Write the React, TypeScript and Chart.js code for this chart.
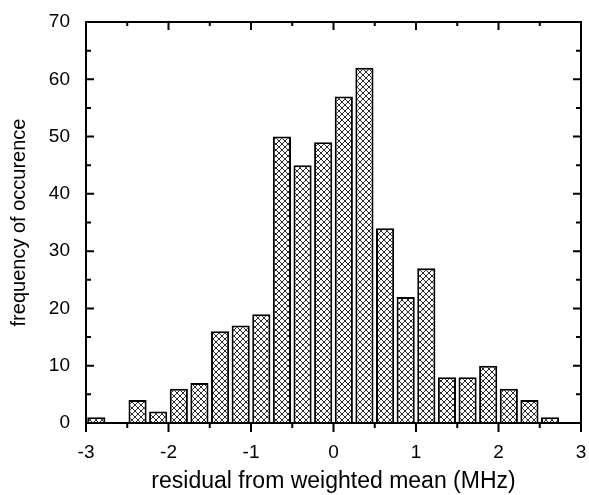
import React, { useEffect, useRef } from "react";
import { Chart, registerables } from "chart.js";

Chart.register(...registerables);

const binCenters = [-2.875, -2.375, -2.125, -1.875, -1.625, -1.375, -1.125, -0.875, -0.625, -0.375, -0.125, 0.125, 0.375, 0.625, 0.875, 1.125, 1.375, 1.625, 1.875, 2.125, 2.375, 2.625];
const counts = [1, 4, 2, 6, 7, 16, 17, 19, 50, 45, 49, 57, 62, 34, 22, 27, 8, 8, 10, 6, 4, 1];
const xTitle = "residual from weighted mean (MHz)";
const yTitle = "frequency of occurence";

const FONT = "'Liberation Sans', Arial, Helvetica, sans-serif";

function makePattern(): CanvasPattern | string {
  const c = document.createElement("canvas");
  const s = 6;
  c.width = s;
  c.height = s;
  const g = c.getContext("2d");
  if (!g) return "#fff";
  g.fillStyle = "#fff";
  g.fillRect(0, 0, s, s);
  g.strokeStyle = "#111";
  g.lineWidth = 0.9;
  for (const o of [-s, 0, s]) {
    g.beginPath();
    g.moveTo(o, 0);
    g.lineTo(o + s, s);
    g.stroke();
    g.beginPath();
    g.moveTo(o + s, 0);
    g.lineTo(o, s);
    g.stroke();
  }
  const p = g.createPattern(c, "repeat");
  return p || "#fff";
}

const framePlugin = {
  id: "frameTicks",
  afterDraw(chart: any) {
    const { ctx, chartArea, scales } = chart;
    const { left, right, top, bottom } = chartArea;
    const x = scales.x;
    const y = scales.y;
    ctx.save();
    ctx.strokeStyle = "#000";
    ctx.lineWidth = 2;
    ctx.strokeRect(left, top, right - left, bottom - top);
    ctx.beginPath();
    for (let v = -3; v <= 3.001; v += 0.5) {
      const px = x.getPixelForValue(v);
      const major = Math.abs(v - Math.round(v)) < 1e-6;
      ctx.moveTo(px, bottom);
      ctx.lineTo(px, bottom + (major ? 9 : 5));
      ctx.moveTo(px, top);
      ctx.lineTo(px, top + (major ? 8 : 4));
    }
    for (let v = 0; v <= 70.001; v += 5) {
      const py = y.getPixelForValue(v);
      const major = v % 10 === 0;
      ctx.moveTo(left, py);
      ctx.lineTo(left + (major ? 8 : 5), py);
      ctx.moveTo(right, py);
      ctx.lineTo(right - (major ? 8 : 5), py);
    }
    ctx.stroke();
    ctx.restore();
  },
};

export default function App() {
  const ref = useRef<HTMLCanvasElement | null>(null);
  useEffect(() => {
    document.body.style.margin = "0";
    const canvas = ref.current;
    if (!canvas) return;
    const pattern = makePattern();
    const chart = new Chart(canvas, {
      type: "bar",
      data: {
        datasets: [
          {
            data: binCenters.map((c, i) => ({ x: c, y: counts[i] })),
            backgroundColor: pattern as any,
            borderColor: "#000",
            borderWidth: 2,
            barPercentage: 0.88,
            categoryPercentage: 1,
          },
        ],
      },
      options: {
        animation: false,
        responsive: false,
        maintainAspectRatio: false,
        layout: { padding: { top: 22, right: 8, left: 0, bottom: 0 } },
        plugins: {
          legend: { display: false },
          tooltip: { enabled: false },
        },
        scales: {
          x: {
            type: "linear",
            min: -3,
            max: 3,
            offset: false,
            grid: { display: false },
            border: { display: false },
            ticks: {
              stepSize: 1,
              color: "#000",
              font: { family: FONT, size: 19 },
              padding: 10,
              maxRotation: 0,
            },
            title: {
              display: true,
              text: xTitle,
              color: "#000",
              font: { family: FONT, size: 23 },
              padding: { top: 10, bottom: 0 },
            },
            afterFit(scale: any) {
              scale.height = 72;
              scale.paddingRight = 0;
              scale.paddingLeft = 0;
            },
          },
          y: {
            min: 0,
            max: 70,
            grid: { display: false },
            border: { display: false },
            ticks: {
              stepSize: 10,
              color: "#000",
              font: { family: FONT, size: 19 },
              padding: 8,
            },
            title: {
              display: true,
              text: yTitle,
              color: "#000",
              font: { family: FONT, size: 20 },
              padding: { top: 7, bottom: 10 },
            },
            afterFit(scale: any) {
              scale.width = 86;
              scale.paddingTop = 0;
              scale.paddingBottom = 0;
            },
          },
        },
      },
      plugins: [framePlugin],
    });
    return () => chart.destroy();
  }, []);
  return <canvas ref={ref} width={589} height={495} style={{ display: "block", width: 589, height: 495 }} />;
}
